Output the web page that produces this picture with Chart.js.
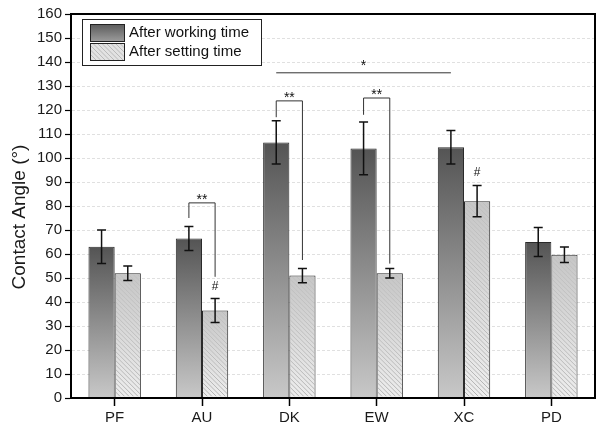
<!DOCTYPE html>
<html><head><meta charset="utf-8">
<script src="https://cdn.jsdelivr.net/npm/chart.js@4/dist/chart.umd.min.js"></script>
<style>html,body{margin:0;padding:0;background:#fff}#wrap{width:600px;height:434px;position:relative}</style>
</head><body><div id="wrap"><canvas id="c" width="600" height="434"></canvas></div>
<script>
// ---- data ----
const categories = ['PF', 'AU', 'DK', 'EW', 'XC', 'PD'];
const seriesLabels = ['After working time', 'After setting time'];
const workingValues = [63, 66.5, 106.5, 104, 104.5, 65];
const workingErrors = [7, 5, 9, 11, 7, 6];
const settingValues = [52, 36.5, 51, 52, 82, 59.7];
const settingErrors = [3, 5, 3, 2, 6.5, 3.2];
const yTickValues = [0, 10, 20, 30, 40, 50, 60, 70, 80, 90, 100, 110, 120, 130, 140, 150, 160];
const yTitle = 'Contact Angle (°)';
// significance brackets (data units): category index, bracket top, left end, right end
const bracketCats = [1, 2, 3];
const bracketTops = [81.3, 123.8, 125];
const bracketLeftEnds = [75, 117, 118];
const bracketRightEnds = [50.5, 57.5, 56];
const bracketLabels = ['**', '**', '**'];
// long line between DK and XC working bars
const longLineCats = [2, 4];
const longLineValue = 135.5;
const longLineLabel = '*';
// '#' marks above setting bars
const hashCats = [1, 4];
const hashValues = [46.3, 93.8];

const FONT = "'Liberation Sans', Arial, sans-serif";

function gradFill(ctx, c1, c2) {
  const chart = ctx.chart;
  if (!chart.chartArea || ctx.type !== 'data') return c1;
  const ys = chart.scales.y;
  const top = ys.getPixelForValue(ctx.raw);
  const bot = ys.getPixelForValue(0);
  const g = chart.ctx.createLinearGradient(0, top, 0, bot);
  g.addColorStop(0, c1);
  g.addColorStop(1, c2);
  return g;
}

const overlayPlugin = {
  id: 'overlay',
  afterDatasetsDraw(chart) {
    const ctx = chart.ctx;
    const ys = chart.scales.y;
    const m0 = chart.getDatasetMeta(0), m1 = chart.getDatasetMeta(1);
    // hatch on setting bars
    m1.data.forEach(el => {
      const p = el.getProps(['x', 'y', 'base', 'width'], true);
      const l = p.x - p.width / 2 + 1, r = p.x + p.width / 2 - 1;
      const t = p.y + 1, b = p.base - 1;
      ctx.save();
      ctx.beginPath(); ctx.rect(l, t, r - l, b - t); ctx.clip();
      const g = ctx.createLinearGradient(0, t, 0, b);
      g.addColorStop(0, 'rgba(140,140,140,0.15)');
      g.addColorStop(1, 'rgba(140,140,140,0.75)');
      ctx.strokeStyle = g; ctx.lineWidth = 0.8;
      ctx.beginPath();
      for (let s = l - (b - t); s < r + 5; s += 4.5) {
        ctx.moveTo(s, t); ctx.lineTo(s + (b - t), b);
      }
      ctx.stroke();
      ctx.restore();
    });
    // error bars
    const errs = [workingErrors, settingErrors];
    const vals = [workingValues, settingValues];
    [m0, m1].forEach((m, di) => {
      m.data.forEach((el, i) => {
        const x = el.x;
        const yT = ys.getPixelForValue(vals[di][i] + errs[di][i]);
        const yB = ys.getPixelForValue(vals[di][i] - errs[di][i]);
        ctx.save();
        ctx.strokeStyle = '#111'; ctx.lineWidth = 1.5;
        ctx.beginPath();
        ctx.moveTo(x, yT); ctx.lineTo(x, yB);
        ctx.moveTo(x - 4.5, yT); ctx.lineTo(x + 4.5, yT);
        ctx.moveTo(x - 4.5, yB); ctx.lineTo(x + 4.5, yB);
        ctx.stroke();
        ctx.restore();
      });
    });
    // brackets
    ctx.save();
    ctx.strokeStyle = '#333'; ctx.lineWidth = 1;
    ctx.fillStyle = '#111';
    bracketCats.forEach((ci, k) => {
      const xl = m0.data[ci].x, xr = m1.data[ci].x;
      const yt = ys.getPixelForValue(bracketTops[k]);
      ctx.beginPath();
      ctx.moveTo(xl, ys.getPixelForValue(bracketLeftEnds[k]));
      ctx.lineTo(xl, yt); ctx.lineTo(xr, yt);
      ctx.lineTo(xr, ys.getPixelForValue(bracketRightEnds[k]));
      ctx.stroke();
      ctx.font = '14px ' + FONT; ctx.textAlign = 'center'; ctx.textBaseline = 'alphabetic';
      ctx.fillText(bracketLabels[k], (xl + xr) / 2, yt + 1);
    });
    // long line
    const x1 = m0.data[longLineCats[0]].x, x2 = m0.data[longLineCats[1]].x;
    const yl = ys.getPixelForValue(longLineValue);
    ctx.beginPath(); ctx.moveTo(x1, yl); ctx.lineTo(x2, yl); ctx.stroke();
    ctx.font = '14px ' + FONT; ctx.textAlign = 'center'; ctx.textBaseline = 'alphabetic';
    ctx.fillText(longLineLabel, (x1 + x2) / 2, yl - 3);
    // hash marks
    ctx.font = '12px ' + FONT; ctx.textBaseline = 'middle';
    hashCats.forEach((ci, k) => {
      ctx.fillText('#', m1.data[ci].x, ys.getPixelForValue(hashValues[k]));
    });
    ctx.restore();
  },
  afterDraw(chart) {
    const ctx = chart.ctx, ca = chart.chartArea;
    ctx.save();
    // frame
    ctx.strokeStyle = '#000'; ctx.lineWidth = 2;
    ctx.strokeRect(ca.left, ca.top, ca.right - ca.left, ca.bottom - ca.top);
    // y title
    ctx.save();
    ctx.translate(20, 217);
    ctx.rotate(-Math.PI / 2);
    ctx.fillStyle = '#1a1a1a';
    ctx.font = '19px ' + FONT; ctx.textAlign = 'center'; ctx.textBaseline = 'middle';
    ctx.fillText(yTitle, 0, 0);
    ctx.restore();
    // legend
    const lx = 82, ly = 19, lw = 179, lh = 46;
    ctx.fillStyle = '#fff';
    ctx.fillRect(lx, ly, lw, lh);
    ctx.lineWidth = 1; ctx.strokeStyle = '#222';
    ctx.strokeRect(lx + 0.5, ly + 0.5, lw, lh);
    // dark swatch
    let g = ctx.createLinearGradient(0, 24, 0, 41);
    g.addColorStop(0, '#5a5a5a'); g.addColorStop(1, '#9a9a9a');
    ctx.fillStyle = g; ctx.fillRect(90, 24, 34, 17);
    ctx.strokeStyle = '#222'; ctx.strokeRect(90.5, 24.5, 34, 17);
    // light swatch
    ctx.fillStyle = '#e2e2e2'; ctx.fillRect(90, 43, 34, 17);
    ctx.save();
    ctx.beginPath(); ctx.rect(91, 44, 33, 16); ctx.clip();
    ctx.strokeStyle = 'rgba(140,140,140,0.6)'; ctx.lineWidth = 0.8;
    ctx.beginPath();
    for (let s = 70; s < 130; s += 4.5) { ctx.moveTo(s, 43); ctx.lineTo(s + 17, 60); }
    ctx.stroke();
    ctx.restore();
    ctx.strokeStyle = '#222'; ctx.strokeRect(90.5, 43.5, 34, 17);
    ctx.fillStyle = '#111';
    ctx.font = '15px ' + FONT; ctx.textAlign = 'left'; ctx.textBaseline = 'middle';
    ctx.fillText(chart.data.datasets[0].label, 129, 33);
    ctx.fillText(chart.data.datasets[1].label, 129, 52);
    ctx.restore();
  }
};

new Chart(document.getElementById('c'), {
  type: 'bar',
  data: {
    labels: categories,
    datasets: [
      {
        label: seriesLabels[0],
        data: workingValues,
        backgroundColor: (ctx) => gradFill(ctx, '#545454', '#c8c8c8'),
        borderColor: '#2a2a2a',
        borderWidth: 1
      },
      {
        label: seriesLabels[1],
        data: settingValues,
        backgroundColor: (ctx) => gradFill(ctx, '#c6c6c6', '#eeeeee'),
        borderColor: '#2a2a2a',
        borderWidth: 1
      }
    ]
  },
  options: {
    responsive: false,
    animation: false,
    devicePixelRatio: 1,
    categoryPercentage: 0.6,
    barPercentage: 1.0,
    layout: { padding: { left: 0, right: 5, top: 14, bottom: 0 } },
    plugins: { legend: { display: false }, tooltip: { enabled: false } },
    scales: {
      x: {
        type: 'category',
        grid: { offset: false, drawOnChartArea: false, tickLength: 8, tickColor: '#000', tickWidth: 1.5 },
        border: { color: '#000', width: 2 },
        ticks: { font: { size: 15, family: FONT }, color: '#1a1a1a', padding: 3 },
        afterFit: (s) => { s.height = 36; }
      },
      y: {
        min: 0, max: 160,
        afterBuildTicks: (s) => { s.ticks = yTickValues.map(v => ({ value: v })); },
        grid: { color: 'rgba(0,0,0,0.12)', tickColor: '#000', tickLength: 6, tickWidth: 1.2 },
        border: { color: '#000', width: 2, dash: [3, 2] },
        ticks: { font: { size: 15, family: FONT }, color: '#1a1a1a', padding: 3 },
        title: { display: false, text: yTitle },
        afterFit: (s) => { s.width = 71; }
      }
    }
  },
  plugins: [overlayPlugin]
});
</script>
</body></html>
